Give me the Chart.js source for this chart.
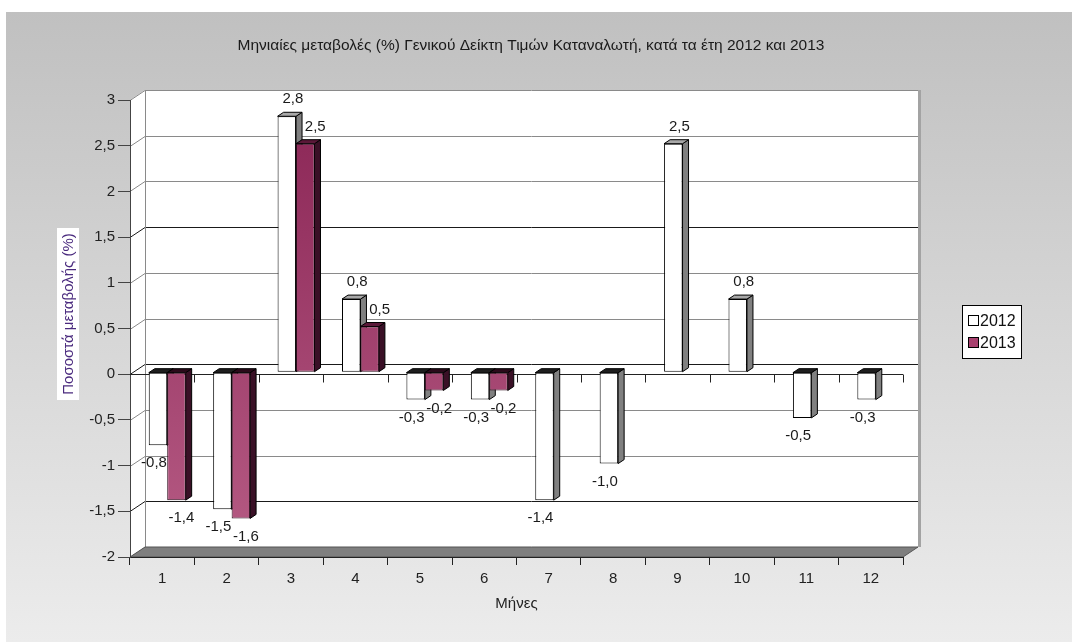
<!DOCTYPE html>
<html lang="el">
<head>
  <meta charset="UTF-8" />
  <title>Μηνιαίες μεταβολές ΓΔΤΚ 2012-2013</title>
  <script src="https://cdn.jsdelivr.net/npm/chart.js"></script>
  <style>
    html, body {
      margin: 0;
      padding: 0;
      background: #fff;
      overflow: hidden;
    }

    .panel {
      position: absolute;
      left: 6px;
      top: 12px;
      width: 1066px;
      height: 630px;
      background: linear-gradient(to bottom, #c0c0c0, #ececec);
    }
  </style>
</head>
<body>
  <div class="panel">
    <canvas id="cpiChart"></canvas>
  </div>

  <script>
    const months = ["1", "2", "3", "4", "5", "6", "7", "8", "9", "10", "11", "12"];
    const values2012 = [-0.8, -1.5, 2.8, 0.8, -0.3, -0.3, -1.4, -1.0, 2.5, 0.8, -0.5, -0.3];
    const values2013 = [-1.4, -1.6, 2.5, 0.5, -0.2, -0.2, null, null, null, null, null, null];
    const seriesNames = ["2012", "2013"];

    const chartTitle = "Μηνιαίες μεταβολές (%) Γενικού Δείκτη Τιμών Καταναλωτή, κατά τα έτη 2012 και 2013";
    const yTitle = "Ποσοστά μεταβολής (%)";
    const xTitle = "Μήνες";

    const FONT = "'Liberation Sans', Arial, sans-serif";

    // depth of the 3D walls and of the bars
    const WALL_DX = 15, WALL_DY = -10;
    const BAR_DX = 6, BAR_DY = -4;
    const BAR_SHIFT_X = 5, BAR_SHIFT_Y = -2;

    const tickFmt = (v) => Number(v).toFixed(Number.isInteger(v) ? 0 : 1).replace(".", ",");
    const labelFmt = (v) => Number(v).toFixed(1).replace(".", ",");

    function maroonGradient(context) {
      const chart = context.chart;
      const area = chart.chartArea;
      if (!area) return "#9b3566";
      const g = chart.ctx.createLinearGradient(0, area.top, 0, area.bottom);
      g.addColorStop(0, "#8a2555");
      g.addColorStop(1, "#b65b84");
      return g;
    }

    const threeD = {
      id: "threeD",
      beforeDraw(chart) {
        const ctx = chart.ctx;
        const { left, right, top, bottom } = chart.chartArea;
        const y = chart.scales.y;

        ctx.save();
        // title (centred on the plot, not on the canvas)
        ctx.font = "15.5px " + FONT;
        ctx.fillStyle = "#1a1a1a";
        ctx.textAlign = "center";
        ctx.textBaseline = "middle";
        ctx.fillText(chartTitle, 525, 34);

        // walls
        ctx.fillStyle = "#ffffff";
        ctx.beginPath();
        ctx.moveTo(left, top);
        ctx.lineTo(left + WALL_DX, top + WALL_DY);
        ctx.lineTo(right + WALL_DX, top + WALL_DY);
        ctx.lineTo(right + WALL_DX, bottom + WALL_DY);
        ctx.lineTo(right, bottom);
        ctx.lineTo(left, bottom);
        ctx.closePath();
        ctx.fill();

        // grey edge on the right of the back wall
        ctx.fillStyle = "#a3a3a3";
        ctx.fillRect(right + WALL_DX, top + WALL_DY, 3, bottom - top);

        // gridlines on the side and back walls
        ctx.lineWidth = 1;
        y.ticks.forEach((t) => {
          const yy = Math.round(y.getPixelForValue(t.value)) + 0.5;
          const dark = t.value === 1.5 || t.value === 0 || t.value === -1.5;
          ctx.strokeStyle = dark ? "#1a1a1a" : "#8a8a8a";
          ctx.beginPath();
          ctx.moveTo(left, yy);
          ctx.lineTo(left + WALL_DX, yy + WALL_DY);
          ctx.lineTo(right + WALL_DX, yy + WALL_DY);
          ctx.stroke();
        });
        ctx.strokeStyle = "#8a8a8a";
        ctx.beginPath();
        ctx.moveTo(left + WALL_DX + 0.5, top + WALL_DY);
        ctx.lineTo(left + WALL_DX + 0.5, bottom + WALL_DY);
        ctx.stroke();

        // floor
        ctx.fillStyle = "#7f7f7f";
        ctx.strokeStyle = "#555";
        ctx.beginPath();
        ctx.moveTo(left, bottom);
        ctx.lineTo(left + WALL_DX, bottom + WALL_DY);
        ctx.lineTo(right + WALL_DX, bottom + WALL_DY);
        ctx.lineTo(right, bottom);
        ctx.closePath();
        ctx.fill();
        ctx.stroke();
        ctx.restore();
      },

      beforeDatasetsDraw(chart) {
        const ctx = chart.ctx;
        const { left, right } = chart.chartArea;
        const y0 = Math.round(chart.scales.y.getPixelForValue(0)) + 0.5;
        const step = (right - left) / chart.data.labels.length;

        // category axis crossing at zero
        ctx.save();
        ctx.strokeStyle = "#222";
        ctx.lineWidth = 1;
        ctx.beginPath();
        ctx.moveTo(left, y0);
        ctx.lineTo(right, y0);
        for (let i = 1; i <= chart.data.labels.length; i++) {
          const xx = Math.round(left + i * step) + 0.5;
          ctx.moveTo(xx, y0);
          ctx.lineTo(xx, y0 + 8);
        }
        ctx.stroke();
        ctx.restore();

        ctx.save();
        ctx.translate(BAR_SHIFT_X, BAR_SHIFT_Y);

        // side and top faces of the bars
        chart.data.datasets.forEach((ds, d) => {
          const meta = chart.getDatasetMeta(d);
          meta.data.forEach((el, i) => {
            const v = ds.data[i];
            if (v === null || v === undefined) return;
            const x0 = el.x - el.width / 2;
            const x1 = el.x + el.width / 2;
            const yTop = Math.min(el.y, el.base);
            const yBot = Math.max(el.y, el.base);

            ctx.lineWidth = 1;
            ctx.strokeStyle = "#000";
            ctx.fillStyle = ds.sideColor;
            ctx.beginPath();
            ctx.moveTo(x1, yTop);
            ctx.lineTo(x1 + BAR_DX, yTop + BAR_DY);
            ctx.lineTo(x1 + BAR_DX, yBot + BAR_DY);
            ctx.lineTo(x1, yBot);
            ctx.closePath();
            ctx.fill();
            ctx.stroke();

            ctx.fillStyle = v >= 0 ? ds.topColor : ds.topColorNeg;
            ctx.beginPath();
            ctx.moveTo(x0, yTop);
            ctx.lineTo(x0 + BAR_DX, yTop + BAR_DY);
            ctx.lineTo(x1 + BAR_DX, yTop + BAR_DY);
            ctx.lineTo(x1, yTop);
            ctx.closePath();
            ctx.fill();
            ctx.stroke();
          });
        });
      },

      afterDatasetsDraw(chart) {
        const ctx = chart.ctx;
        ctx.font = "15px " + FONT;
        ctx.fillStyle = "#1a1a1a";
        ctx.textAlign = "center";
        ctx.textBaseline = "middle";
        chart.data.datasets.forEach((ds, d) => {
          const meta = chart.getDatasetMeta(d);
          meta.data.forEach((el, i) => {
            const v = ds.data[i];
            if (v === null || v === undefined) return;
            if (v >= 0) {
              ctx.fillText(labelFmt(v), el.x + ds.labelDxPos, el.y - 17);
            } else {
              ctx.fillText(labelFmt(v), el.x + ds.labelDxNeg, el.y + 18);
            }
          });
        });
        ctx.restore();
      },

      afterDraw(chart) {
        const ctx = chart.ctx;
        ctx.save();

        // y axis title on a white box
        ctx.fillStyle = "#ffffff";
        ctx.fillRect(51, 216, 22, 172);
        ctx.translate(62, 302);
        ctx.rotate(-Math.PI / 2);
        ctx.font = "15px " + FONT;
        ctx.fillStyle = "#4a2a7e";
        ctx.textAlign = "center";
        ctx.textBaseline = "middle";
        ctx.fillText(yTitle, 0, 1);
        ctx.setTransform(1, 0, 0, 1, 0, 0);

        // legend
        const bx = 956.5, by = 293.5, bw = 59, bh = 53;
        ctx.fillStyle = "#ffffff";
        ctx.fillRect(bx, by, bw, bh);
        ctx.strokeStyle = "#000";
        ctx.lineWidth = 1;
        ctx.strokeRect(bx, by, bw, bh);
        ctx.font = "16px " + FONT;
        ctx.textAlign = "left";
        ctx.textBaseline = "middle";
        chart.data.datasets.forEach((ds, d) => {
          const cy = 309 + d * 22;
          ctx.fillStyle = ds.legendColor;
          ctx.fillRect(962.5, cy - 5.5, 10, 10);
          ctx.strokeRect(962.5, cy - 5.5, 10, 10);
          ctx.fillStyle = "#111";
          ctx.fillText(ds.label, 974, cy + 1);
        });
        ctx.restore();
      }
    };

    new Chart(document.getElementById("cpiChart"), {
      type: "bar",
      data: {
        labels: months,
        datasets: [
          {
            label: seriesNames[0],
            data: values2012,
            backgroundColor: "#ffffff",
            borderColor: "#000000",
            borderWidth: 1,
            borderSkipped: false,
            sideColor: "#808080",
            topColor: "#a8a8a8",
            topColorNeg: "#1e1e1e",
            legendColor: "#ffffff",
            labelDxPos: 6,
            labelDxNeg: -4
          },
          {
            label: seriesNames[1],
            data: values2013,
            backgroundColor: maroonGradient,
            borderColor: "#2a0a1a",
            borderWidth: 1,
            borderSkipped: false,
            sideColor: "#3a1026",
            topColor: "#5a1838",
            topColorNeg: "#2a0a1a",
            legendColor: "#a8416f",
            labelDxPos: 10,
            labelDxNeg: 5
          }
        ]
      },
      options: {
        responsive: true,
        maintainAspectRatio: false,
        animation: false,
        categoryPercentage: 0.573,
        barPercentage: 1,
        clip: false,
        layout: {
          padding: { left: 0, right: 169, top: 88, bottom: 0 }
        },
        plugins: {
          legend: { display: false },
          tooltip: { enabled: false },
          title: { display: false }
        },
        scales: {
          x: {
            grid: {
              drawOnChartArea: false,
              drawTicks: true,
              tickLength: 8,
              color: "#222"
            },
            border: { display: true, color: "#222" },
            ticks: {
              color: "#222",
              padding: 5,
              font: { family: FONT, size: 15 }
            },
            title: {
              display: true,
              text: xTitle,
              color: "#222",
              font: { family: FONT, size: 15 },
              padding: { top: 29, bottom: 29 }
            },
            afterFit(scale) { scale.height = 85; }
          },
          y: {
            min: -2,
            max: 3,
            ticks: {
              stepSize: 0.5,
              color: "#222",
              padding: 3,
              font: { family: FONT, size: 15 },
              callback: (v) => tickFmt(v)
            },
            grid: {
              drawOnChartArea: false,
              drawTicks: true,
              tickLength: 12,
              color: "#444"
            },
            border: { display: true, color: "#444" },
            afterFit(scale) { scale.width = 124; }
          }
        }
      },
      plugins: [threeD]
    });
  </script>
</body>
</html>
